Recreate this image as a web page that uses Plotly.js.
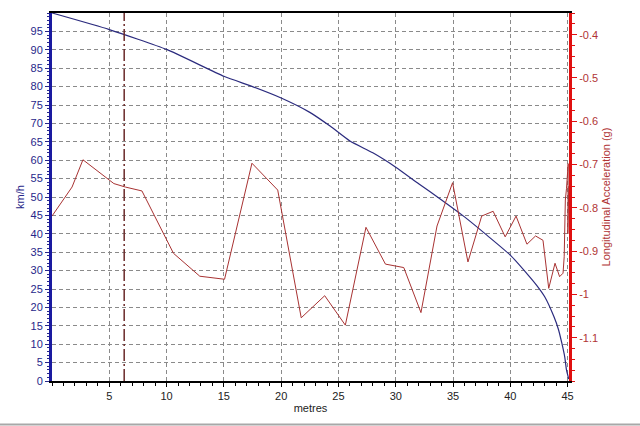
<!DOCTYPE html>
<html>
<head>
<meta charset="utf-8">
<script src="https://cdn.plot.ly/plotly-3.0.1.min.js"></script>
<style>
  html, body { margin: 0; padding: 0; background: #ffffff; }
  #chart { width: 640px; height: 426px; }
</style>
</head>
<body>
<div id="chart"></div>
<script>
// Speed trace (km/h) against distance (metres)
const speedDist = [0, 5, 10, 15, 17.5, 20, 22.5, 24.3, 26, 28, 30, 32, 34, 36, 38, 40, 41.5, 42.3, 43, 43.8, 44.2, 44.5, 44.75, 44.9, 45.1];
const speedKmh  = [100, 95.5, 90.1, 82.8, 80.0, 76.9, 73.0, 69.2, 65.2, 62.0, 58.1, 53.6, 49.2, 44.6, 39.5, 34.2, 29.0, 26.0, 22.9, 17.5, 14.0, 10.2, 6.5, 3.0, 0.5];

// Longitudinal acceleration (g) against distance (metres)
const accDist = [0, 1.75, 2.7, 5.4, 6.4, 7.85, 10.6, 12.9, 15.06, 17.45, 19.7, 21.75, 23.8, 25.6, 27.4, 29.1, 30.7, 32.2, 33.6, 34.96, 36.3, 37.5, 38.5, 39.55, 40.5, 41.45, 42.2, 42.85, 43.35, 43.9, 44.3, 44.6, 44.7, 44.8, 44.9, 45.0, 45.05, 45.02, 45.1];
const accG    = [-0.819, -0.752, -0.689, -0.744, -0.752, -0.761, -0.905, -0.958, -0.965, -0.697, -0.759, -1.054, -1.003, -1.071, -0.845, -0.930, -0.938, -1.042, -0.842, -0.742, -0.925, -0.819, -0.808, -0.867, -0.819, -0.884, -0.865, -0.875, -0.986, -0.928, -0.959, -0.951, -0.913, -0.782, -0.756, -0.713, -0.698, -0.86, -0.75];

// Cursor marker position (metres)
const cursorPos = [6.3];

// Tick labels
const xTickVals = [5, 10, 15, 20, 25, 30, 35, 40, 45];
const yTickVals = [0, 5, 10, 15, 20, 25, 30, 35, 40, 45, 50, 55, 60, 65, 70, 75, 80, 85, 90, 95];
const y2TickVals = [-0.4, -0.5, -0.6, -0.7, -0.8, -0.9, -1, -1.1];
const y2TickText = ['-0.4', '-0.5', '-0.6', '-0.7', '-0.8', '-0.9', '-1', '-1.1'];

const FONT = 'Liberation Sans, Arial, sans-serif';
const NAVY = '#27278a';
const RED_TXT = '#b03434';

const traces = [
  {
    x: speedDist, y: speedKmh, type: 'scatter', mode: 'lines',
    line: { color: '#2b2b7e', width: 1.2, shape: 'spline', smoothing: 0.5 }, yaxis: 'y', hoverinfo: 'skip'
  },
  {
    x: accDist, y: accG, type: 'scatter', mode: 'lines',
    line: { color: '#a83232', width: 1 }, yaxis: 'y2', hoverinfo: 'skip'
  }
];

const layout = {
  width: 640, height: 426,
  margin: { l: 52, r: 71, t: 13, b: 45 },
  paper_bgcolor: '#ffffff', plot_bgcolor: '#ffffff',
  showlegend: false,
  font: { family: FONT, size: 11, color: '#222' },
  xaxis: {
    range: [0, 45.12],
    tickmode: 'array', tickvals: xTickVals,
    ticks: 'outside', ticklen: 4, tickcolor: '#000',
    minor: { dtick: 1, tick0: 0, ticks: 'outside', ticklen: 3, tickcolor: '#000', showgrid: false },
    showgrid: true, gridcolor: '#8a8a8a', gridwidth: 1, griddash: '4px,3px',
    showline: true, linecolor: '#000', linewidth: 2, mirror: true,
    zeroline: false,
    tickfont: { family: FONT, size: 11, color: '#222' },
    title: { text: 'metres', font: { family: FONT, size: 11, color: '#222' }, standoff: 3 }
  },
  yaxis: {
    range: [0, 100],
    tickmode: 'array', tickvals: yTickVals,
    ticks: 'outside', ticklen: 4, tickcolor: NAVY,
    minor: { dtick: 1, tick0: 0, ticks: 'outside', ticklen: 2, tickcolor: NAVY, showgrid: false },
    showgrid: true, gridcolor: '#8a8a8a', gridwidth: 1, griddash: '4px,3px',
    showline: true, linecolor: '#1a1aa0', linewidth: 3,
    zeroline: false,
    tickfont: { family: FONT, size: 11, color: NAVY },
    title: { text: 'km/h', font: { family: FONT, size: 11, color: NAVY }, standoff: 4 }
  },
  yaxis2: {
    overlaying: 'y', side: 'right',
    range: [-1.2, -0.35],
    tickmode: 'array', tickvals: y2TickVals, ticktext: y2TickText,
    ticks: 'outside', ticklen: 5, tickcolor: '#e01010',
    minor: { dtick: 0.025, tick0: -0.4, ticks: 'outside', ticklen: 3, tickcolor: '#e01010', showgrid: false },
    showgrid: false,
    showline: true, linecolor: '#e01010', linewidth: 3,
    zeroline: false,
    tickfont: { family: FONT, size: 11, color: RED_TXT },
    title: { text: 'Longitudinal Acceleration (g)', font: { family: FONT, size: 11, color: RED_TXT }, standoff: 6 }
  },
  shapes: [
    {
      type: 'line', xref: 'x', yref: 'paper',
      x0: cursorPos[0], x1: cursorPos[0], y0: 0, y1: 1,
      line: { color: '#6a2a2a', width: 1.5, dash: '12px,3px,2px,3px' }
    },
    {
      type: 'line', xref: 'paper', yref: 'paper',
      x0: -0.11, x1: 1.15, y0: -0.118, y1: -0.118,
      line: { color: '#a8a8a8', width: 2 }
    }
  ]
};

Plotly.newPlot('chart', traces, layout, { displayModeBar: false, staticPlot: true });
</script>
</body>
</html>
